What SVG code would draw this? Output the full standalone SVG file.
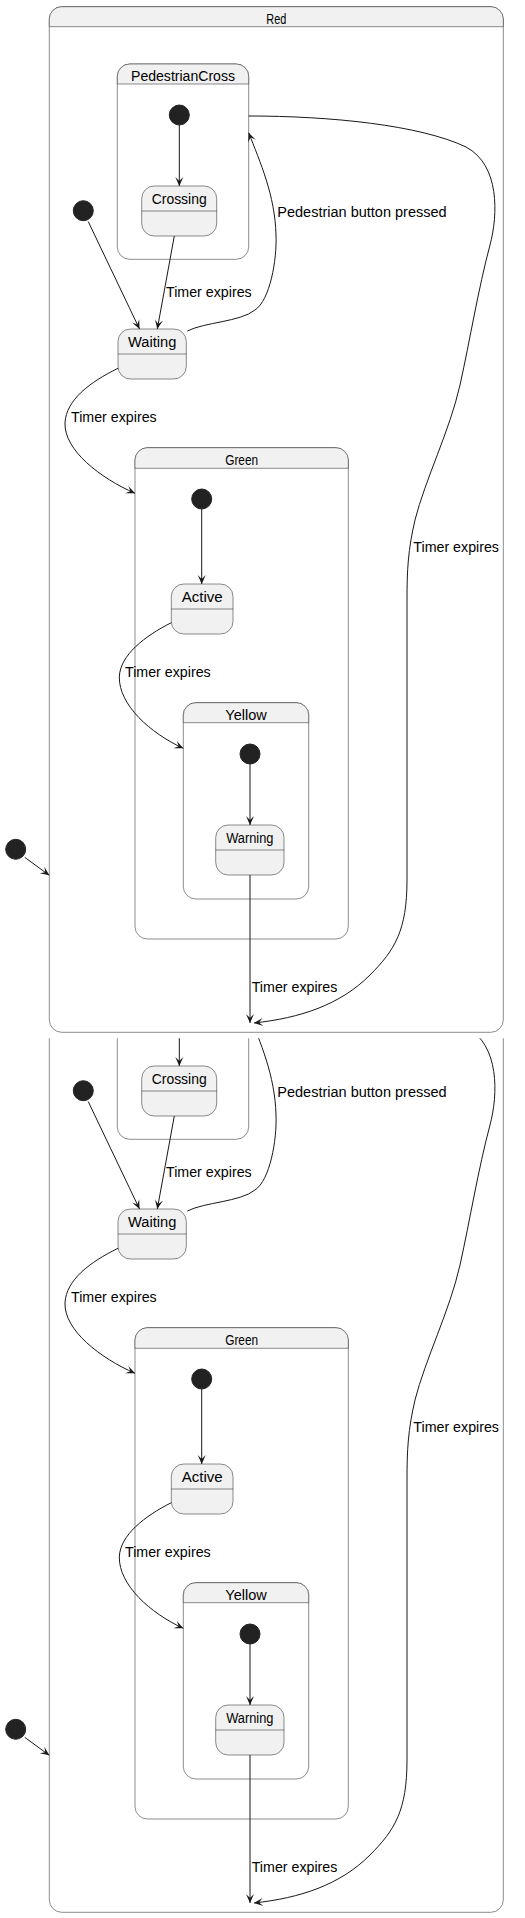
<svg xmlns="http://www.w3.org/2000/svg" width="525" height="1918" viewBox="0 0 525 1918">
<defs>
<style>
.cmp{fill:#FFFFFF;stroke:#181818;stroke-width:0.5}
.hdr{fill:#F1F1F1;stroke:#181818;stroke-width:0.5}
.st{fill:#F1F1F1;stroke:#181818;stroke-width:0.5}
.sep{stroke:#181818;stroke-width:0.5;fill:none}
.ini{fill:#222222;stroke:#222222;stroke-width:1}
.tr{fill:none;stroke:#181818;stroke-width:1;marker-end:url(#ah)}
text{font-family:"Liberation Sans",Arial,sans-serif;font-size:14px;fill:#000000}
.c{text-anchor:middle}
</style>
<marker id="ah" markerUnits="userSpaceOnUse" viewBox="-10 -5 11 10" refX="0" refY="0" markerWidth="11" markerHeight="10" orient="auto" overflow="visible"><path d="M0,0 L-9,-4 L-5,0 L-9,4 Z" fill="#181818"/></marker>
<clipPath id="clip2"><rect x="0" y="1038.3" width="525" height="880"/></clipPath>
</defs>
<rect x="0" y="0" width="525" height="1918" fill="#FFFFFF"/>

<g id="page1">
<g id="Red">
<rect class="cmp" x="49.3" y="6.7" width="454" height="1025.6" rx="12.5"/>
<path class="hdr" d="M49.3,26.7 V19.2 A12.5,12.5 0 0 1 61.8,6.7 H490.8 A12.5,12.5 0 0 1 503.3,19.2 V26.7 Z"/>
<text class="c" x="276.3" y="24" textLength="20" lengthAdjust="spacingAndGlyphs">Red</text>
</g>
<g id="PedestrianCross">
<rect class="cmp" x="117.3" y="64" width="131.4" height="195.3" rx="12.5"/>
<path class="hdr" d="M117.3,84 V76.5 A12.5,12.5 0 0 1 129.8,64 H236.2 A12.5,12.5 0 0 1 248.7,76.5 V84 Z"/>
<text class="c" x="183" y="81" textLength="104" lengthAdjust="spacingAndGlyphs">PedestrianCross</text>
</g>
<g id="Green">
<rect class="cmp" x="135" y="447.7" width="213.3" height="491.3" rx="12.5"/>
<path class="hdr" d="M135,468.3 V460.2 A12.5,12.5 0 0 1 147.5,447.7 H335.8 A12.5,12.5 0 0 1 348.3,460.2 V468.3 Z"/>
<text class="c" x="241.7" y="464.7" textLength="33" lengthAdjust="spacingAndGlyphs">Green</text>
</g>
<g id="Yellow">
<rect class="cmp" x="183.3" y="702.7" width="125.4" height="196.3" rx="12.5"/>
<path class="hdr" d="M183.3,722.7 V715.2 A12.5,12.5 0 0 1 195.8,702.7 H296.2 A12.5,12.5 0 0 1 308.7,715.2 V722.7 Z"/>
<text class="c" x="246" y="719.7" textLength="41.3" lengthAdjust="spacingAndGlyphs">Yellow</text>
</g>
<g id="Crossing">
<rect class="st" x="141.7" y="186" width="75" height="50" rx="12.5"/>
<line class="sep" x1="141.7" y1="211" x2="216.7" y2="211"/>
<text class="c" x="179.2" y="204" textLength="55" lengthAdjust="spacingAndGlyphs">Crossing</text>
</g>
<g id="Waiting">
<rect class="st" x="118" y="329" width="68.3" height="50" rx="12.5"/>
<line class="sep" x1="118" y1="354" x2="186.3" y2="354"/>
<text class="c" x="152.2" y="347" textLength="48.3" lengthAdjust="spacingAndGlyphs">Waiting</text>
</g>
<g id="Active">
<rect class="st" x="171.3" y="584" width="61.7" height="50" rx="12.5"/>
<line class="sep" x1="171.3" y1="609" x2="233" y2="609"/>
<text class="c" x="202.2" y="602" textLength="41" lengthAdjust="spacingAndGlyphs">Active</text>
</g>
<g id="Warning">
<rect class="st" x="215.7" y="825" width="68.3" height="50" rx="12.5"/>
<line class="sep" x1="215.7" y1="850" x2="284" y2="850"/>
<text class="c" x="249.8" y="843" textLength="47.3" lengthAdjust="spacingAndGlyphs">Warning</text>
</g>
<g id="init_red"><circle class="ini" cx="83.3" cy="210.7" r="10"/></g>
<g id="init_ped"><circle class="ini" cx="179.3" cy="115" r="10"/></g>
<g id="init_green"><circle class="ini" cx="201.7" cy="499" r="10"/></g>
<g id="init_yellow"><circle class="ini" cx="250" cy="754" r="10"/></g>
<g id="init_top"><circle class="ini" cx="15.7" cy="849.3" r="10"/></g>
<g id="connectors">
<path class="tr" d="M179.3,125 L179.3,186"/>
<path class="tr" d="M88.3,221.7 L139.5,329"/>
<path class="tr" d="M174.3,236 L157.3,329"/>
<path class="tr" d="M187.3,331 C205,322 240,322 255,310 C270,300 277,260 276,235 C275,195 260,162 248.7,132.7"/>
<path class="tr" d="M248.7,116 C330,116 420,125 466,147 C500,165 498,215 490,245 C478,290 470,340 460,385 C450,430 425,480 415,520 C408,550 407,570 407,600 L407,880 C407,930 395,950 370,975 C340,1005 300,1018 254,1023"/>
<path class="tr" d="M118,368.3 C90,382 66,400 65,423 C64,450 100,478 135,493.3"/>
<path class="tr" d="M201.7,509 L201.7,584"/>
<path class="tr" d="M171.3,622.7 C145,636 120,655 119.3,677 C119,705 150,733 183.3,748.3"/>
<path class="tr" d="M250,764 L250,825"/>
<path class="tr" d="M250,875 L250,1023"/>
<path class="tr" d="M24.7,857.3 L49.3,875.3"/>
<text x="166" y="297" textLength="85.7" lengthAdjust="spacingAndGlyphs">Timer expires</text>
<text x="277.3" y="217" textLength="169.3" lengthAdjust="spacingAndGlyphs">Pedestrian button pressed</text>
<text x="71" y="422" textLength="85.7" lengthAdjust="spacingAndGlyphs">Timer expires</text>
<text x="413.3" y="552" textLength="85.7" lengthAdjust="spacingAndGlyphs">Timer expires</text>
<text x="125" y="677" textLength="85.7" lengthAdjust="spacingAndGlyphs">Timer expires</text>
<text x="251.7" y="992" textLength="85.7" lengthAdjust="spacingAndGlyphs">Timer expires</text>
</g>
</g>

<g id="page2" clip-path="url(#clip2)">
<g transform="translate(0,880)">
<g id="Red-2">
<rect class="cmp" x="49.3" y="6.7" width="454" height="1025.6" rx="12.5"/>
<path class="hdr" d="M49.3,26.7 V19.2 A12.5,12.5 0 0 1 61.8,6.7 H490.8 A12.5,12.5 0 0 1 503.3,19.2 V26.7 Z"/>
</g>
<g id="PedestrianCross-2">
<rect class="cmp" x="117.3" y="64" width="131.4" height="195.3" rx="12.5"/>
</g>
<g id="Green-2">
<rect class="cmp" x="135" y="447.7" width="213.3" height="491.3" rx="12.5"/>
<path class="hdr" d="M135,468.3 V460.2 A12.5,12.5 0 0 1 147.5,447.7 H335.8 A12.5,12.5 0 0 1 348.3,460.2 V468.3 Z"/>
<text class="c" x="241.7" y="464.7" textLength="33" lengthAdjust="spacingAndGlyphs">Green</text>
</g>
<g id="Yellow-2">
<rect class="cmp" x="183.3" y="702.7" width="125.4" height="196.3" rx="12.5"/>
<path class="hdr" d="M183.3,722.7 V715.2 A12.5,12.5 0 0 1 195.8,702.7 H296.2 A12.5,12.5 0 0 1 308.7,715.2 V722.7 Z"/>
<text class="c" x="246" y="719.7" textLength="41.3" lengthAdjust="spacingAndGlyphs">Yellow</text>
</g>
<g id="Crossing-2">
<rect class="st" x="141.7" y="186" width="75" height="50" rx="12.5"/>
<line class="sep" x1="141.7" y1="211" x2="216.7" y2="211"/>
<text class="c" x="179.2" y="204" textLength="55" lengthAdjust="spacingAndGlyphs">Crossing</text>
</g>
<g id="Waiting-2">
<rect class="st" x="118" y="329" width="68.3" height="50" rx="12.5"/>
<line class="sep" x1="118" y1="354" x2="186.3" y2="354"/>
<text class="c" x="152.2" y="347" textLength="48.3" lengthAdjust="spacingAndGlyphs">Waiting</text>
</g>
<g id="Active-2">
<rect class="st" x="171.3" y="584" width="61.7" height="50" rx="12.5"/>
<line class="sep" x1="171.3" y1="609" x2="233" y2="609"/>
<text class="c" x="202.2" y="602" textLength="41" lengthAdjust="spacingAndGlyphs">Active</text>
</g>
<g id="Warning-2">
<rect class="st" x="215.7" y="825" width="68.3" height="50" rx="12.5"/>
<line class="sep" x1="215.7" y1="850" x2="284" y2="850"/>
<text class="c" x="249.8" y="843" textLength="47.3" lengthAdjust="spacingAndGlyphs">Warning</text>
</g>
<g id="init_red-2"><circle class="ini" cx="83.3" cy="210.7" r="10"/></g>
<g id="init_green-2"><circle class="ini" cx="201.7" cy="499" r="10"/></g>
<g id="init_yellow-2"><circle class="ini" cx="250" cy="754" r="10"/></g>
<g id="init_top-2"><circle class="ini" cx="15.7" cy="849.3" r="10"/></g>
<g id="connectors-2">
<path class="tr" d="M179.3,125 L179.3,186"/>
<path class="tr" d="M88.3,221.7 L139.5,329"/>
<path class="tr" d="M174.3,236 L157.3,329"/>
<path class="tr" d="M187.3,331 C205,322 240,322 255,310 C270,300 277,260 276,235 C275,195 260,162 248.7,132.7"/>
<path class="tr" d="M248.7,116 C330,116 420,125 466,147 C500,165 498,215 490,245 C478,290 470,340 460,385 C450,430 425,480 415,520 C408,550 407,570 407,600 L407,880 C407,930 395,950 370,975 C340,1005 300,1018 254,1023"/>
<path class="tr" d="M118,368.3 C90,382 66,400 65,423 C64,450 100,478 135,493.3"/>
<path class="tr" d="M201.7,509 L201.7,584"/>
<path class="tr" d="M171.3,622.7 C145,636 120,655 119.3,677 C119,705 150,733 183.3,748.3"/>
<path class="tr" d="M250,764 L250,825"/>
<path class="tr" d="M250,875 L250,1023"/>
<path class="tr" d="M24.7,857.3 L49.3,875.3"/>
<text x="166" y="297" textLength="85.7" lengthAdjust="spacingAndGlyphs">Timer expires</text>
<text x="277.3" y="217" textLength="169.3" lengthAdjust="spacingAndGlyphs">Pedestrian button pressed</text>
<text x="71" y="422" textLength="85.7" lengthAdjust="spacingAndGlyphs">Timer expires</text>
<text x="413.3" y="552" textLength="85.7" lengthAdjust="spacingAndGlyphs">Timer expires</text>
<text x="125" y="677" textLength="85.7" lengthAdjust="spacingAndGlyphs">Timer expires</text>
<text x="251.7" y="992" textLength="85.7" lengthAdjust="spacingAndGlyphs">Timer expires</text>
</g>
</g>
</g>
</svg>
